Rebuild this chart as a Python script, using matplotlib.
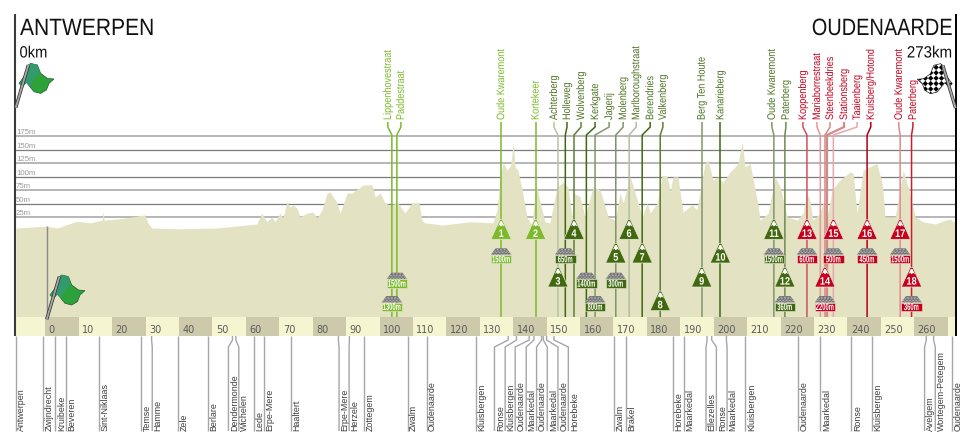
import matplotlib
matplotlib.use("Agg")
import matplotlib.pyplot as plt
import matplotlib.patheffects as pe
from matplotlib.patches import Polygon, Ellipse, Rectangle
from matplotlib.transforms import Affine2D

# elevation profile: km from start, metres
profile_km = [-8.8, 0.5, 3.5, 9.5, 13.4, 17, 17.3, 17.6, 21.5, 26.2, 29.8, 30.7, 31.9, 39.4, 51.4, 63.3, 64.8,
              66.3, 67.8, 68.7, 70.2, 71.1, 72.3, 73.2, 74.1, 75.3, 76.2, 78.3, 80.1, 81.3, 82.8, 84.3, 85.2,
              87.3, 88.2, 90.3, 91.8, 95.1, 97.8, 98.7, 100.2, 101.6, 103.1, 105.5, 107.6, 109.7, 111.8, 112.7,
              113.6, 119, 127, 133.9, 135.2, 136.1, 137, 138.2, 139.3, 140, 140.6, 141.4, 142.7, 144.1, 145.6,
              146.8, 148.6, 149.5, 151, 153.1, 154.9, 156.4, 157.6, 158.2, 160, 161.5, 163.9, 166, 168.4, 170.5,
              172, 172.9, 175, 176.5, 178.6, 180.1, 181, 183.1, 184.6, 186.1, 187, 187.8, 189.3, 190.8, 193.5,
              195, 197.4, 198.3, 199.8, 201.3, 202.8, 204.9, 206.4, 207.3, 208.5, 209.4, 210.9, 213, 213.9, 216.3,
              218.4, 219.9, 222, 225, 226.7, 227.9, 228.8, 229.7, 231.8, 232.7, 234.2, 235.4, 237.8, 240.8, 241.7,
              242.9, 244.7, 246.7, 248.8, 250.4, 251.3, 254.3, 256.7, 258.2, 260.3, 262.6, 266.4, 269.2, 270.7, 272.5]
profile_m = [5.5, 9, 5.5, 18, 15, 20, 37, 20, 22, 26, 30, 15, 5.5, 4, 5.5, 13, 33,
             17, 26, 17, 33, 24, 53.5, 44, 48, 42, 26, 33, 35, 24, 39, 70, 72,
             52, 33, 70, 70, 85, 85, 63, 70, 52, 48, 52, 33, 52, 52, 20,
             15, 11, 17, 15, 39, 100, 127, 112, 122, 164, 118, 112, 76, 26, 11,
             88.5, 39, 17, 15, 81, 90, 81, 26, 70, 63, 26, 81, 76, 26, 20,
             70, 52, 100, 70, 26, 52, 33, 52, 103, 100, 72, 100, 100, 35, 48,
             39, 125, 131, 94, 100, 90, 109, 118, 125, 164, 118, 125, 57, 20, 33,
             100, 81, 26, 20, 33, 70, 57, 20, 33, 52, 33, 76, 94, 109, 107,
             33, 112, 118, 125, 88.5, 26, 26, 112, 81, 26, 17, 13, 20, 22, 15]

elev_ticks = [25, 50, 75, 100, 125, 150, 175]
km_ticks = list(range(0, 280, 10))

# climbs and cobbled sectors, in race order
climb_names = ["Lippenhovestraat", "Paddestraat", "Oude Kwaremont", "Kortekeer", "Achterberg", "Holleweg",
               "Wolvenberg", "Kerkgate", "Jagerij", "Molenberg", "Marlboroughstraat", "Berendries", "Valkenberg",
               "Berg Ten Houte", "Kanarieberg", "Oude Kwaremont", "Paterberg", "Koppenberg", "Mariaborrestraat",
               "Steenbeekdries", "Stationsberg", "Taaienberg", "Kruisberg/Hotond", "Oude Kwaremont", "Paterberg"]
climb_km = [103.7, 105.2, 136.4, 146.7, 153.4, 155.6, 158.2, 161.9, 164.5, 170.7, 174.7, 178.6, 184,
            196.4, 202, 218, 221.3, 227.9, 231.9, 233.3, 233.9, 235.8, 245.9, 255.8, 259.2]
label_km = [102.5, 106.4, 136.4, 146.7, 152.2, 156.1, 160.3, 164.5, 168.7, 172.9, 176.8, 181, 184.8,
            196.4, 202, 217.4, 221.6, 226.7, 230.9, 234.8, 239, 242.9, 247, 255.4, 259.6]

mountain_nums = list(range(1, 19))
mountain_km = [136.4, 146.7, 153.4, 158.2, 170.7, 174.7, 178.6, 184, 196.4, 202, 218, 221.3, 227.9, 233.3,
               235.8, 245.9, 255.8, 259.2]
cobble_labels = ["1300m", "1500m", "1500m", "650m", "1400m", "800m", "300m", "1500m", "360m", "600m", "2200m",
                 "500m", "450m", "1500m", "360m"]
cobble_km = [103.7, 105.2, 136.4, 155.6, 161.9, 164.5, 170.7, 218, 221.3, 227.9, 233.3, 235.8, 245.9, 255.8, 259.2]

# towns under the strip: where they sit on the route and where the leader ends
town_names = ["Antwerpen", "Zwijndrecht", "Kruibeke", "Beveren", "Sint-Niklaas", "Temse", "Hamme", "Zele", "Berlare",
              "Dendermonde", "Wichelen", "Lede", "Erpe-Mere", "Haaltert", "Erpe-Mere", "Herzele", "Zottegem", "Zwalm",
              "Oudenaarde", "Kluisbergen", "Ronse", "Kluisbergen", "Oudenaarde", "Maarkedal", "Oudenaarde",
              "Maarkedal", "Oudenaarde", "Horebeke", "Zwalm", "Brakel", "Horebeke", "Maarkedal", "Ellezelles", "Ronse",
              "Maarkedal", "Kluisbergen", "Oudenaarde", "Maarkedal", "Ronse", "Kluisbergen", "Avelgem",
              "Wortegem-Petegem", "Oudenaarde"]
town_km = [-8.9, -0.6, 3, 6.2, 16.2, 28.6, 31.8, 39.8, 48.7, 56, 57, 62.5, 65.5, 73.5, 87.7, 91, 95.5, 108.4,
           114.1, 128.9, 138.5, 141, 144.8, 146.2, 148.5, 149, 150, 152.2, 170.3, 173.8, 187.7, 191, 198, 199.4,
           203.8, 209.5, 225.3, 231.9, 241.2, 247.4, 263.6, 265.8, 271.2]
town_foot_km = [-8.9, -0.6, 3, 6.2, 16.2, 28.6, 32, 39.8, 48.7, 54.8, 57.9, 62.5, 65.5, 73.5, 87.9, 90.9, 95.5, 108.4,
                114.1, 128.9, 134.4, 137.6, 140.6, 143.9, 147, 150.2, 153.4, 156.5, 170.3, 173.8, 187.7, 191, 197.7,
                200.8, 204, 209.5, 225.3, 231.9, 241.2, 247.4, 263.1, 266.3, 271.2]

# layout
LGREEN, DGREEN, RED = "#7cba2c", "#40690f", "#c4001c"
climb_colors = [LGREEN] * 4 + ["#b9c2a2", DGREEN, "#5c8035", DGREEN, "#83966a", "#7f9465", "#b4bca0", DGREEN,
                               "#5c8035", "#83966a", DGREEN, "#83966a", "#6f8a50", "#d0505a", "#e29a9a",
                               "#d58a8a", "#d58a8a", "#e6a8a8", "#b00018", "#e08c8c", "#c8202e"]
climb_widths = [1.1] * 4 + [1.1] * 15 + [1.1, 1.6, 1.1, 1.1, 1.1, 1.1]
mountain_rows = [0, 0, 2, 0, 1, 0, 1, 3, 2, 1, 0, 2, 0, 2, 0, 0, 0, 2]
mountain_base = [239.3, 263, 287, 310.7]
cobble_rows = [2, 1, 0, 0, 1, 2, 1, 0, 2, 0, 2, 0, 0, 0, 2]
cobble_bottom = [263.3, 287.7, 311]
FILL = "#e3e2c2"

W, H = 980, 447
PX_KM, X0 = 3.342, 45.3
PX_M, Y0 = 0.542, 231
BASE_M = (Y0 - 317) / PX_M
BAND_M = 19 / PX_M
X_END = 272.6

plt.rcParams['font.family'] = ['Liberation Sans', 'DejaVu Sans']

fig = plt.figure(figsize=(W / 100, H / 100), dpi=100)
ax = fig.add_axes([0, 0, 1, 1])
ax.set_xlim(-X0 / PX_KM, (W - X0) / PX_KM)
ax.set_ylim((Y0 - H) / PX_M, Y0 / PX_M)
ax.axis("off")

# pixel transform for the icons, y counted from the top
px_tf = Affine2D().scale(1, -1).translate(0, H)


class Squeeze(pe.AbstractPathEffect):
    """Narrow the glyphs along the text direction, no condensed font is installed."""

    def __init__(self, sx, anchor=0.0):
        super().__init__()
        self.sx, self.anchor = sx, anchor

    def draw_path(self, renderer, gc, tpath, affine, rgbFace=None):
        a = tpath.get_extents().x1 * self.anchor
        narrow = Affine2D().translate(-a, 0).scale(self.sx, 1).translate(a, 0) + affine
        renderer.draw_path(gc, tpath, narrow, rgbFace)


def xpx(km):
    return ax.transData.transform((km, 0))[0]


def pline(xs, ys, color, lw=1.0, z=3):
    ax.plot(xs, ys, color=color, lw=lw, transform=px_tf, zorder=z, solid_capstyle="butt", solid_joinstyle="miter")


def flag(xb, yb, mirror=1, checker=False):
    outline = [(12.7, -42.7), (15, -44.3), (21.7, -42.7), (25, -34.3), (31.7, -29.3), (38.3, -28.7), (33.3, -24.3),
               (30.7, -17.7), (25, -14.3), (18.3, -16), (10.7, -25.3), (6.7, -21), (3.3, -24.3), (8.3, -31)]
    pts = [(xb + mirror * a, yb + b) for a, b in outline]
    if checker:
        body = Polygon(pts, fc="white", ec="#222222", lw=0.5, transform=px_tf, zorder=6)
        ax.add_patch(body)
        d = 5.4
        for i in range(0, 9):
            for j in range(0, 8):
                cx, cy = xb - 41 + i * d, yb - 46 + j * d
                sq = Polygon([(cx - d / 2, cy), (cx, cy - d / 2), (cx + d / 2, cy), (cx, cy + d / 2)], fc="black",
                             ec="none", transform=px_tf, zorder=6)
                ax.add_patch(sq)
                sq.set_clip_path(body)
    else:
        ax.add_patch(Polygon(pts, fc="#2ea23a", ec="#1c5c2a", lw=0.5, transform=px_tf, zorder=6))
        teal = [(12.7, -42.7), (15, -44.3), (21.7, -42.7), (24, -36), (17, -27), (14, -21), (10.7, -25.3), (6.7, -21),
                (3.3, -24.3), (8.3, -31)]
        ax.add_patch(Polygon([(xb + mirror * a, yb + b) for a, b in teal], fc="#339a6e", ec="none",
                             transform=px_tf, zorder=6))
    pline([xb, xb + mirror * 12.7], [yb, yb - 42.7], "#333333", 2.4, 7)
    pline([xb, xb + mirror * 12.7], [yb, yb - 42.7], "#a8a8a8", 1.3, 7)


def mountain(x, base, num, color):
    top = base - 19.6
    ax.add_patch(Polygon([(x - 10.2, base), (x - 1.3, top), (x + 1.3, top), (x + 10.2, base)], fc=color, ec="#e9e9d2",
                         lw=0.5, transform=px_tf, zorder=5))
    ax.add_patch(Polygon([(x - 3.2, top + 7), (x - 0.8, top + 1.6), (x + 0.8, top + 1.6), (x + 3.6, top + 7), (x + 1.5, top + 5.5),
                          (x, top + 6.8), (x - 1.5, top + 5.2)], fc="white", ec="none", transform=px_tf, zorder=6))
    ax.text(x, base - 5.4, str(num), color="white", fontsize=7.8, fontweight="bold", ha="center", va="center",
            transform=px_tf, zorder=7, path_effects=[Squeeze(0.85, 0.5)])


def cobbles(x, bottom, text, color):
    ax.add_patch(Polygon([(x - 10.3, bottom - 8.6), (x - 5.5, bottom - 15), (x + 5.5, bottom - 15), (x + 10.3, bottom - 8.6)],
                         fc="#77777a", ec="none", transform=px_tf, zorder=5))
    for r, (half, n) in enumerate([(3.5, 3), (6, 5), (8, 6), (9.2, 7)]):
        for i in range(n):
            ex = x - half + 2 * half * i / (n - 1)
            ax.add_patch(Ellipse((ex, bottom - 13.8 + r * 1.6), 2.0, 0.8, fc="#c4c4c4", ec="none",
                                 transform=px_tf, zorder=6))
    ax.add_patch(Rectangle((x - 10.2, bottom - 8.3), 20.4, 8.3, fc=color, ec="#e9e9d2", lw=0.4, transform=px_tf, zorder=6))
    ax.text(x, bottom - 4, text, color="white", fontsize=7, fontweight="bold", ha="center", va="center",
            transform=px_tf, zorder=7, path_effects=[Squeeze(0.6, 0.5)])


# grid
for i, e in enumerate(elev_ticks):
    thin = i % 2 == 1
    ax.hlines(e, -9, X_END, color="#7c7c7c" if thin else "#aaaaaa", lw=0.9 if thin else 1.2, zorder=1)
    ax.text(-8.8, e + 0.3, "%dm" % e, fontsize=5.6, color="#9a9a9a", va="bottom", ha="left", zorder=1)

# profile and km strip
ax.fill_between(profile_km, profile_m, BASE_M, color=FILL, lw=0, zorder=2)
ax.bar(-9, -BAND_M, width=9, bottom=BASE_M, align="edge", color="#f5f5d2", zorder=2)
for k in km_ticks:
    w = min(10, X_END - k)
    ax.bar(k, -BAND_M, width=w, bottom=BASE_M, align="edge", color="#cccaab" if k % 20 == 0 else "#f5f5d2", zorder=2)
    if k < 270:
        ax.text(xpx(k) + (3.5 if k else 3), 330, str(k), fontsize=7, color="#5a5a5a", family="DejaVu Sans", ha="left",
                va="center", transform=px_tf, zorder=3)

# frame
pline([15.3, 15.3], [14, 336], "#3a3a3a", 1.5, 4)
pline([956, 956], [14, 336], "black", 1.4, 4)
pline([xpx(0.4), xpx(0.4)], [226, 318], "#8a8a8a", 1.0, 3)

# titles
ax.text(20, 35, "ANTWERPEN", fontsize=17, color="#111111", ha="left", va="baseline", transform=px_tf,
        path_effects=[Squeeze(0.89, 0)])
ax.text(19.5, 57.5, "0km", fontsize=11.8, color="#111111", ha="left", va="baseline", transform=px_tf,
        path_effects=[Squeeze(0.9, 0)])
ax.text(952.5, 35, "OUDENAARDE", fontsize=17, color="#111111", ha="right", va="baseline", transform=px_tf,
        path_effects=[Squeeze(0.845, 1)])
ax.text(952.5, 57.5, "273km", fontsize=11.8, color="#111111", ha="right", va="baseline", transform=px_tf,
        path_effects=[Squeeze(0.92, 1)])

flag(15.7, 107.7)
flag(46.7, 319.3)
flag(955.5, 108, mirror=-1, checker=True)

# climb lines with leaders and names
for i, name in enumerate(climb_names):
    x, xl = xpx(climb_km[i]), xpx(label_km[i])
    col = climb_colors[i]
    pline([xl, xl, x, x], [122, 127, 135, 317], col, climb_widths[i], 3)
    label_col = LGREEN if i < 4 else (RED if i >= 17 else "#4c7222")
    ax.text(xl, 120, name, rotation=90, fontsize=7.9, color=label_col, ha="center", va="bottom",
            transform=px_tf, zorder=4, path_effects=[Squeeze(0.83, 0)])

for i, n in enumerate(mountain_nums):
    col = LGREEN if n <= 2 else (DGREEN if n <= 12 else RED)
    mountain(xpx(mountain_km[i]), mountain_base[mountain_rows[i]], n, col)

for i, lab in enumerate(cobble_labels):
    km = cobble_km[i]
    col = LGREEN if km < 150 else (DGREEN if km < 225 else RED)
    cobbles(xpx(km), cobble_bottom[cobble_rows[i]], lab, col)

# towns
for i, name in enumerate(town_names):
    x, xf = xpx(town_km[i]), xpx(town_foot_km[i])
    pline([x, x, xf, xf], [336, 340, 347, 431], "#a6a6a6", 1.0, 3)
    ax.text(xf + 6, 431, name, rotation=90, fontsize=6.4, color="#3c3c3c", ha="center", va="bottom", transform=px_tf)

fig.savefig("out.png", dpi=100, facecolor="white")
